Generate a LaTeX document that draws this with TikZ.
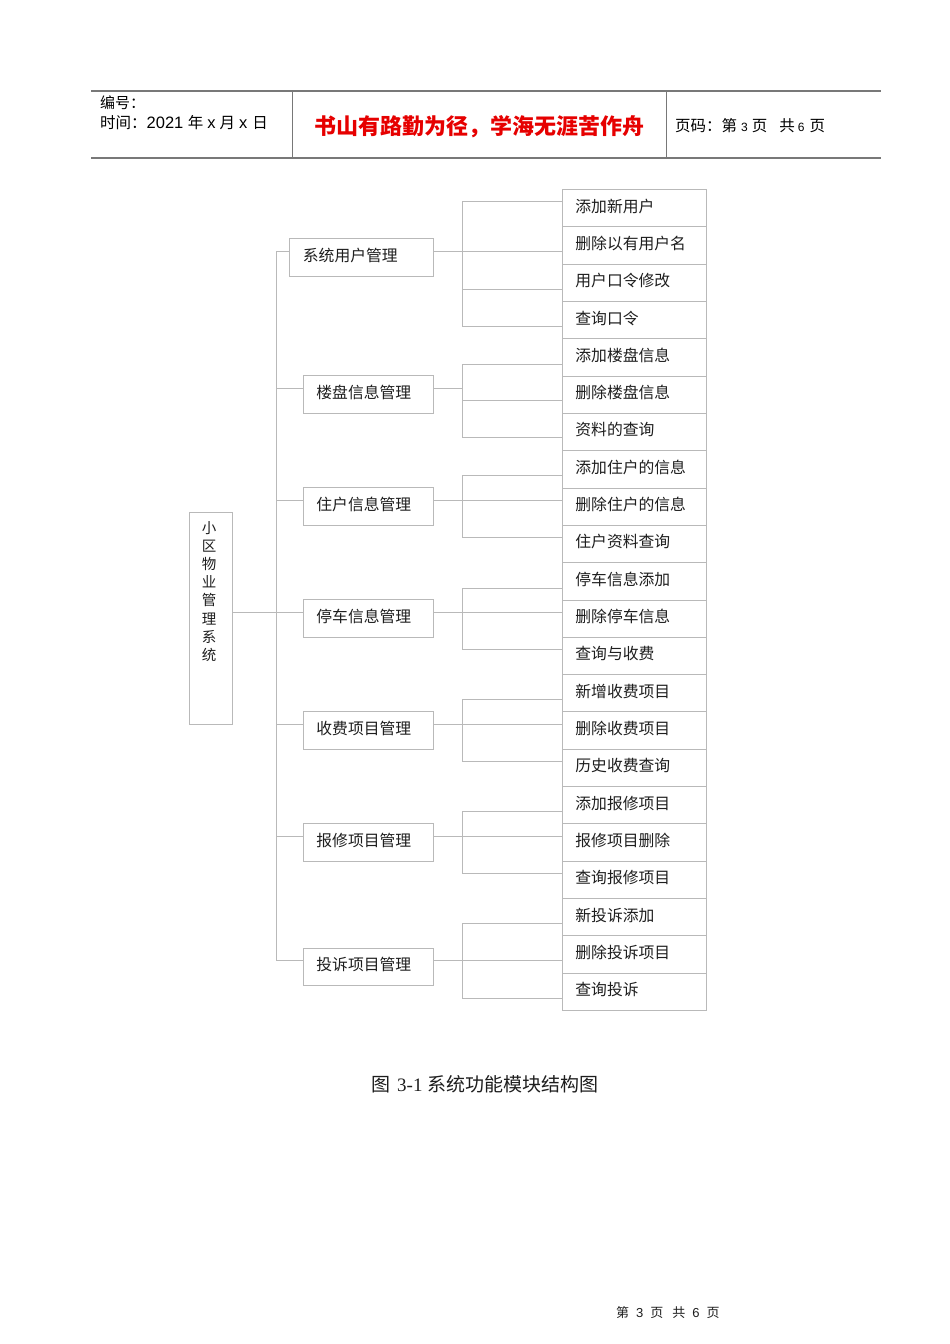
\documentclass[tikz,border=0pt]{standalone}
\usepackage{fontspec}
\setmainfont{Noto Sans CJK SC}
\newfontfamily\serifnum{Liberation Serif}
\newfontfamily\sansnum{Liberation Sans}
\usetikzlibrary{calc}
\definecolor{lineg}{RGB}{185,185,185}
\definecolor{hdrg}{RGB}{120,120,120}
\definecolor{redtxt}{RGB}{230,0,0}
\definecolor{txt}{RGB}{30,30,30}
\tikzset{
  leafbox/.style={draw=lineg, line width=0.8pt, minimum width=144pt, minimum height=37.32pt,
    inner xsep=13pt, inner ysep=0pt, text width=118pt, text height=11pt, text depth=3pt,
    align=left, anchor=north west, text=txt, font=\fontsize{15.8}{15.8}\selectfont},
  midbox/.style={draw=lineg, line width=0.8pt, minimum height=38pt, inner xsep=13pt, inner ysep=0pt,
    text width=104pt, text height=11pt, text depth=3pt, align=left, anchor=north west,
    text=txt, font=\fontsize{15.8}{15.8}\selectfont},
  conn/.style={draw=lineg, line width=0.8pt},
  hdrline/.style={draw=hdrg, line width=1.2pt},
  hdrvline/.style={draw=hdrg, line width=0.8pt}
}
\begin{document}
\begin{tikzpicture}[x=1pt,y=-1pt]
\useasboundingbox[fill=white] (0,0) rectangle (950,1344);

% header
\coordinate (h1) at (91,91);
\coordinate (h2) at (881,91);
\coordinate (h3) at (91,158);
\coordinate (h4) at (881,158);
\draw[hdrline] (h1) -- (h2);
\draw[hdrline] (h3) -- (h4);
\coordinate (v1a) at (292,91); \coordinate (v1b) at (292,158);
\coordinate (v2a) at (666,91); \coordinate (v2b) at (666,158);
\draw[hdrvline] (v1a) -- (v1b);
\draw[hdrvline] (v2a) -- (v2b);
\node[anchor=base west, inner sep=0pt, font=\fontsize{15}{15}\selectfont] (hn) at (100,108) {编号：};
\node[anchor=base west, inner sep=0pt, font=\fontsize{15.5}{15.5}\selectfont] (ht) at (100,128) {时间：{\fontsize{16.5}{16.5}\selectfont\sansnum 2021}\hspace{4.5pt}年\hspace{4pt}{\fontsize{16.5}{16.5}\selectfont\sansnum x}\hspace{4pt}月\hspace{4pt}{\fontsize{16.5}{16.5}\selectfont\sansnum x}\hspace{5pt}日};
\node[anchor=base, inner sep=0pt, text=redtxt, font=\fontsize{22}{22}\bfseries] (hm) at (479,134) {书山有路勤为径，学海无涯苦作舟};
\node[anchor=base west, inner sep=0pt, font=\fontsize{15.5}{15.5}\selectfont] (hp) at (675,131) {页码：第\hspace{4pt}{\fontsize{12}{12}\selectfont\sansnum 3}\hspace{4pt}页\hspace{12pt}共\hspace{3pt}{\fontsize{12}{12}\selectfont\sansnum 6}\hspace{5pt}页};

% root
\node[draw=lineg, line width=0.8pt, minimum width=43pt, minimum height=212pt, anchor=north west, inner sep=0pt] (r) at (189,512) {};
\node[anchor=north, align=center, inner sep=0pt, text=txt, font=\fontsize{14.5}{18.2}\selectfont] (rt) at (209,521) {小\\区\\物\\业\\管\\理\\系\\统};

% leaves
\foreach \t [count=\i] in {添加新用户,删除以有用户名,用户口令修改,查询口令,添加楼盘信息,删除楼盘信息,资料的查询,添加住户的信息,删除住户的信息,住户资料查询,停车信息添加,删除停车信息,查询与收费,新增收费项目,删除收费项目,历史收费查询,添加报修项目,报修项目删除,查询报修项目,新投诉添加,删除投诉项目,查询投诉}
  \node[leafbox] (l\i) at (562,{189+37.32*(\i-1)}) {\t};

% middle boxes
\node[midbox, text width=117pt, inner xsep=13.5pt] (m1) at (289,238) {系统用户管理};
\node[midbox] (m2) at (303,375) {楼盘信息管理};
\node[midbox] (m3) at (303,487) {住户信息管理};
\node[midbox] (m4) at (303,599) {停车信息管理};
\node[midbox] (m5) at (303,711) {收费项目管理};
\node[midbox] (m6) at (303,823) {报修项目管理};
\node[midbox, minimum height=37pt] (m7) at (303,948) {投诉项目管理};

% trunk
\coordinate (t1) at (276,251);
\coordinate (t7) at (276,960);
\draw[conn] (m1.west |- t1) -- (t1) -- (t7) -- (m7.west |- t7);
\draw[conn] (r.east |- 0,612) -- (m4.west |- 0,612);
\foreach \m/\y in {m2/388,m3/500,m5/724,m6/836}
  \draw[conn] (276,\y) -- (\m.west |- 0,\y);

% brackets
\foreach \m/\cy/\ya/\yb in {m1/251/201/326,m2/388/364/437,m3/500/475/537,m4/612/588/649,m5/724/699/761,m6/836/811/873,m7/960/923/998}{
  \draw[conn] (\m.east |- 0,\cy) -- (462,\cy);
  \draw[conn] (462,\ya) -- (462,\yb);
}
\foreach \l/\y in {l1/201,l2/251,l3/289,l4/326,l5/364,l6/400,l7/437,l8/475,l9/500,l10/537,l11/588,l12/612,l13/649,l14/699,l15/724,l16/761,l17/811,l18/836,l19/873,l20/923,l21/960,l22/998}
  \draw[conn] (462,\y) -- (\l.west |- 0,\y);

% caption
\node[anchor=base west, inner sep=0pt, text=txt, font=\fontsize{19}{19}\selectfont] (cap) at (371,1091) {图\hspace{7pt}{\serifnum 3-1}\hspace{5pt}系统功能模块结构图};

% footer
\node[anchor=base west, inner sep=0pt, text=txt, font=\fontsize{13}{13}\selectfont] (ft) at (616,1317) {第\hspace{7pt}{\sansnum 3}\hspace{7pt}页\hspace{9pt}共\hspace{7pt}{\sansnum 6}\hspace{7pt}页};
\end{tikzpicture}
\end{document}
